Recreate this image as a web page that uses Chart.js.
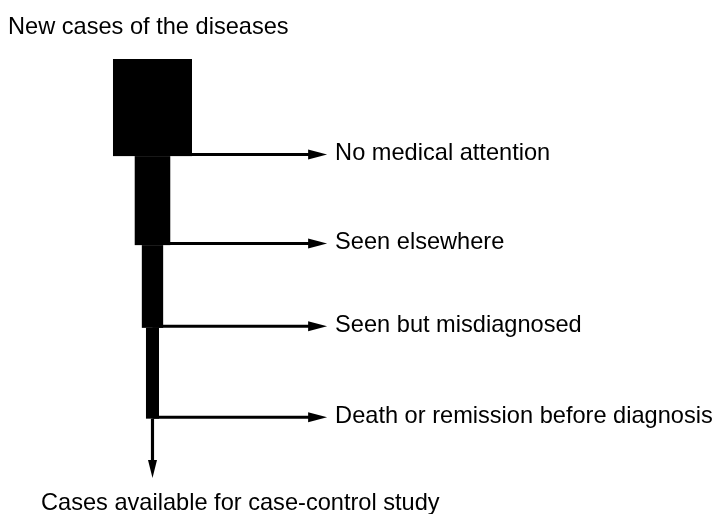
<!DOCTYPE html>
<html>
<head>
<meta charset="utf-8">
<script src="https://cdn.jsdelivr.net/npm/chart.js@4/dist/chart.umd.min.js"></script>
<style>
  html, body { margin: 0; padding: 0; background: #fff; }
  #wrap { width: 719px; height: 514px; position: relative; }
</style>
</head>
<body>
<div id="wrap"><canvas id="funnel"></canvas></div>
<script>
// stages of the flow: where the cases go at each step
const startLabel = 'New cases of the diseases';
const lossLabels = ['No medical attention', 'Seen elsewhere', 'Seen but misdiagnosed', 'Death or remission before diagnosis'];
const endLabel = 'Cases available for case-control study';

// relative number of cases still in the flow at each step (block width)
const casesLeft = [100, 45, 27, 16.5];
const casesAtEnd = 4;

// depth of each step along the flow (top of each block, last = bottom of the last block)
const stepDepth = [0, 1.08, 2.07, 2.99, 4.0];
const endDepth = 4.66;

// how far the side arrows reach (same units as casesLeft)
const arrowReach = 221;

const FONT = '23.6px "Liberation Sans", Arial, Helvetica, sans-serif';

const flowPlugin = {
    id: 'flow',
    afterDraw(chart) {
        const ctx = chart.ctx;
        const x = chart.scales.x;
        const y = chart.scales.y;
        ctx.save();
        ctx.fillStyle = '#000';
        ctx.strokeStyle = '#000';

        // blocks
        casesLeft.forEach((w, i) => {
            const l = x.getPixelForValue(-w / 2);
            const r = x.getPixelForValue(w / 2);
            const t = y.getPixelForValue(stepDepth[i]);
            const b = y.getPixelForValue(stepDepth[i + 1]);
            ctx.fillRect(l, t, r - l, b - t);
        });

        // side arrows + labels
        const tipX = x.getPixelForValue(arrowReach);
        ctx.font = FONT;
        ctx.textBaseline = 'alphabetic';
        ctx.textAlign = 'left';
        lossLabels.forEach((lab, i) => {
            const yy = y.getPixelForValue(stepDepth[i + 1]) - 1.5;
            const x0 = x.getPixelForValue(0);
            ctx.lineWidth = 3;
            ctx.beginPath();
            ctx.moveTo(x0, yy);
            ctx.lineTo(tipX - 16, yy);
            ctx.stroke();
            ctx.beginPath();
            ctx.moveTo(tipX, yy);
            ctx.lineTo(tipX - 19, yy - 5);
            ctx.lineTo(tipX - 19, yy + 5);
            ctx.closePath();
            ctx.fill();
            ctx.fillText(lab, tipX + 8, yy + 5.5);
        });

        // last stretch down to the cases that are left
        const cx = x.getPixelForValue(0);
        const lw = x.getPixelForValue(casesAtEnd / 2) - x.getPixelForValue(-casesAtEnd / 2);
        const y0 = y.getPixelForValue(stepDepth[stepDepth.length - 1]);
        const yTip = y.getPixelForValue(endDepth);
        ctx.lineWidth = lw;
        ctx.beginPath();
        ctx.moveTo(cx, y0);
        ctx.lineTo(cx, yTip - 16);
        ctx.stroke();
        ctx.beginPath();
        ctx.moveTo(cx, yTip);
        ctx.lineTo(cx - 4.5, yTip - 18);
        ctx.lineTo(cx + 4.5, yTip - 18);
        ctx.closePath();
        ctx.fill();

        // top and bottom captions
        ctx.fillText(startLabel, 8, 34);
        ctx.fillText(endLabel, 41, 510);
        ctx.restore();
    }
};

new Chart(document.getElementById('funnel').getContext('2d'), {
    type: 'scatter',
    data: { datasets: [] },
    options: {
        responsive: true,
        maintainAspectRatio: false,
        animation: false,
        layout: { padding: { top: 59, bottom: 36, left: 0, right: 0 } },
        plugins: { legend: { display: false }, tooltip: { enabled: false } },
        scales: {
            x: { type: 'linear', min: -193, max: 717, display: false },
            y: { type: 'linear', min: 0, max: endDepth, reverse: true, display: false }
        }
    },
    plugins: [flowPlugin]
});
</script>
</body>
</html>
